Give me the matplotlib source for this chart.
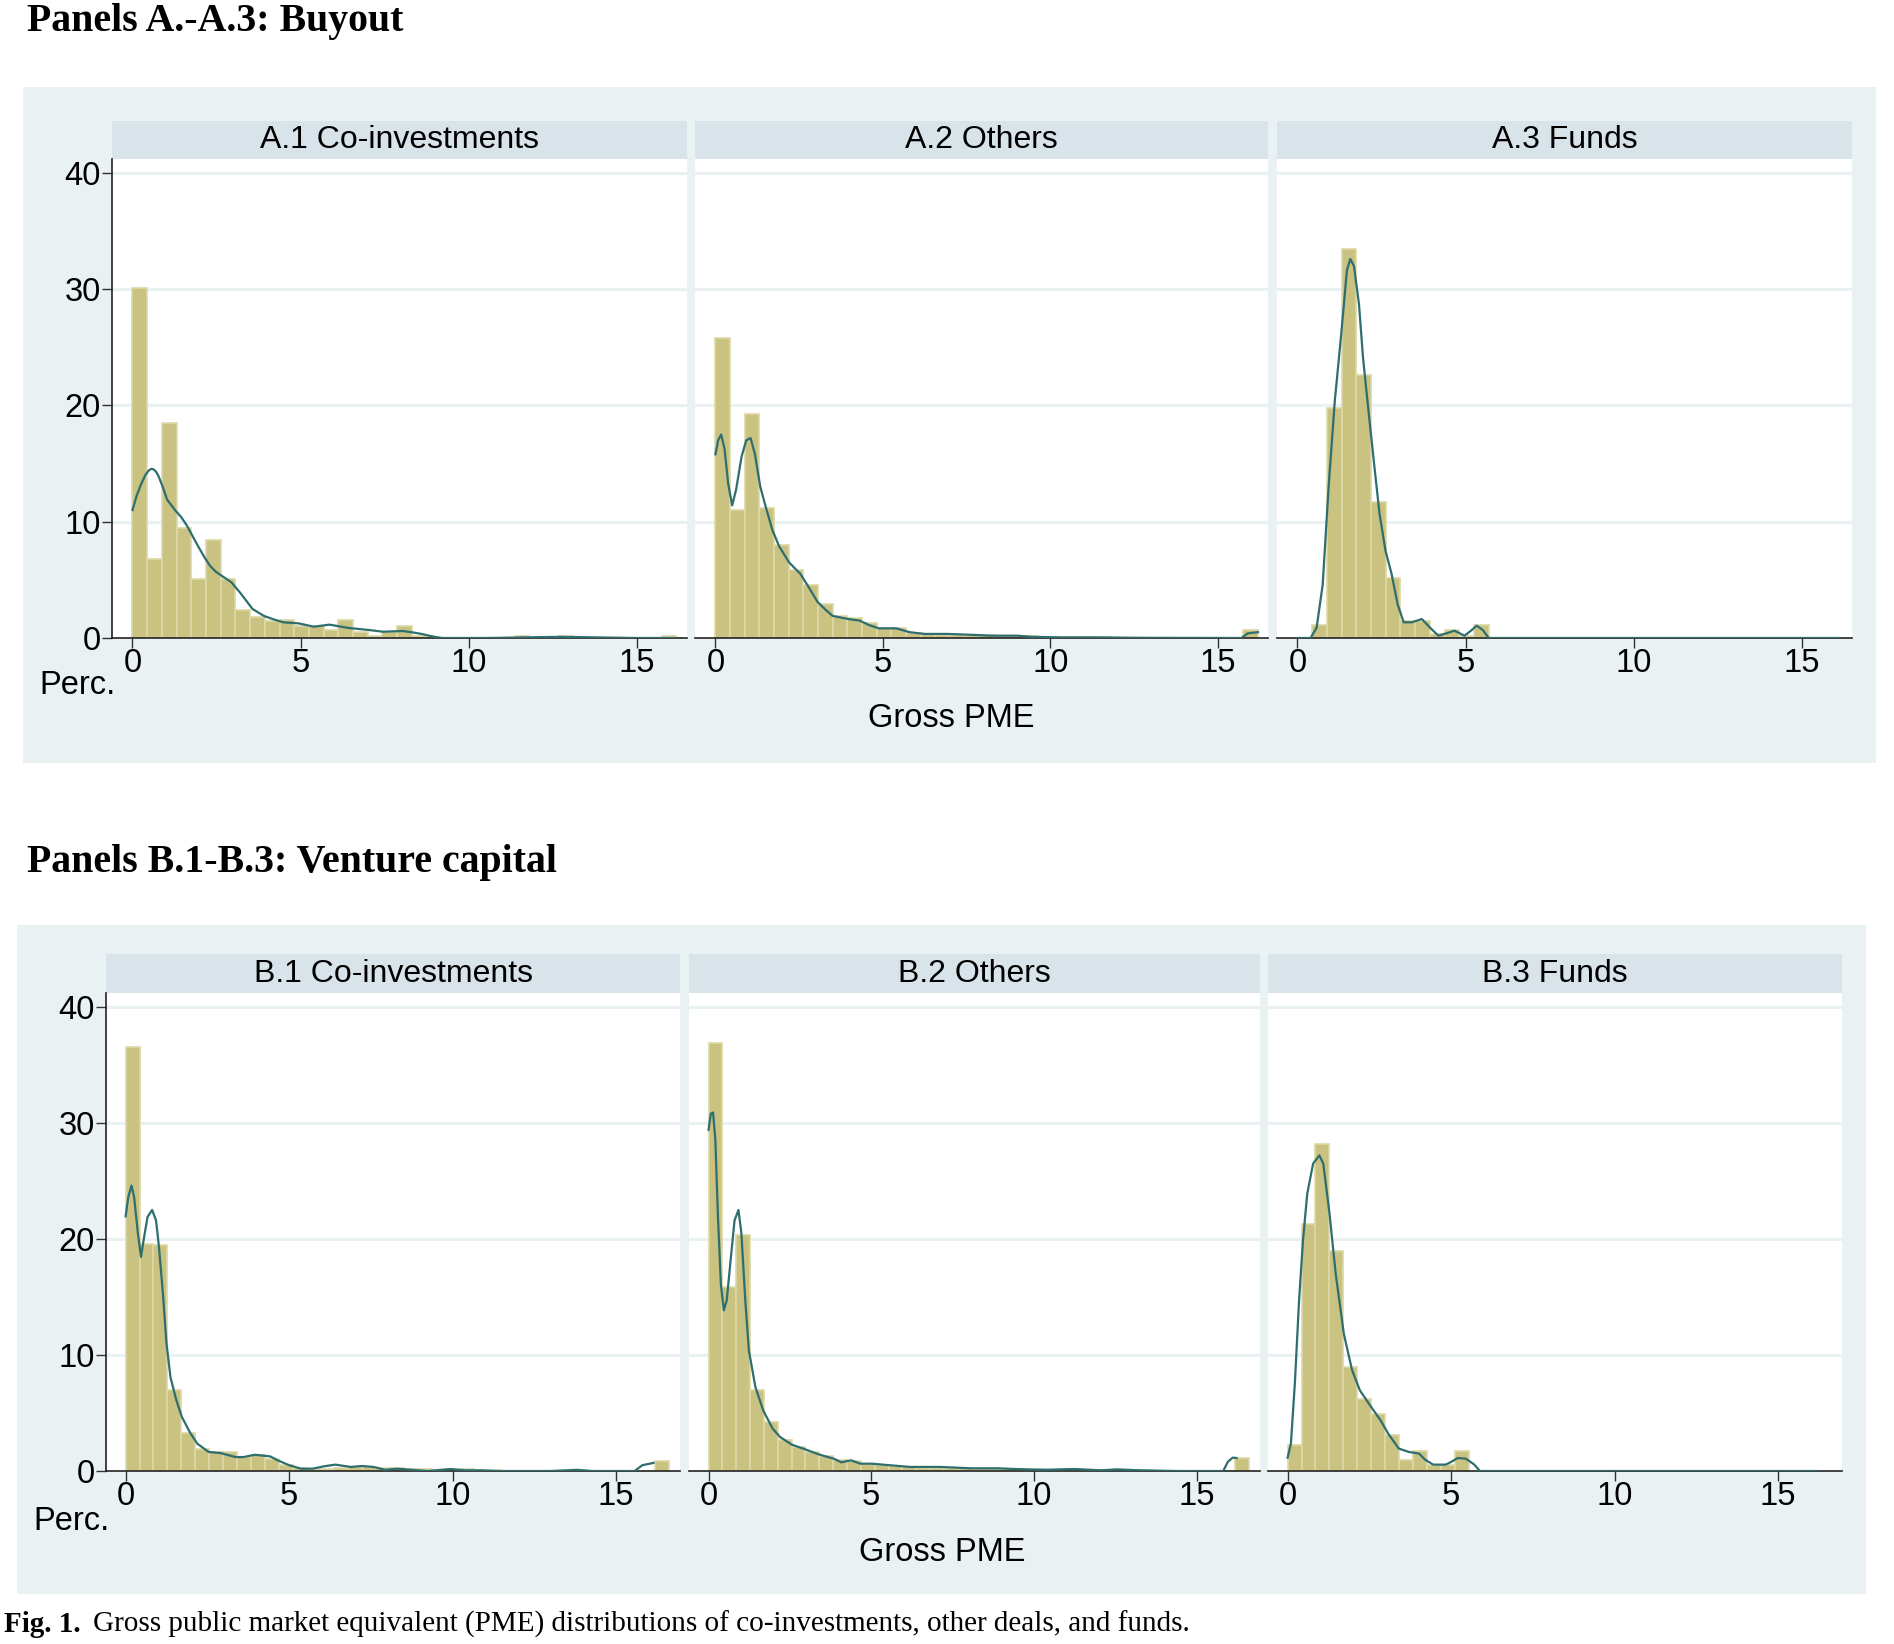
import numpy as np
import matplotlib
matplotlib.use("Agg")
import matplotlib.pyplot as plt
from matplotlib.text import Annotation

# ---------------- data ----------------
A_BIN_WIDTH = 0.4375
B_BIN_WIDTH = 0.4256

A1_HEIGHTS = [30.1, 6.8, 18.5, 9.5, 5.1, 8.4, 5.1, 2.4, 1.8, 1.5, 1.55, 1.0, 1.0, 0.7,
              1.55, 0.5, 0.2, 0.5, 1.05, 0.2, 0.05, 0, 0, 0, 0, 0, 0.15, 0, 0, 0.15,
              0, 0, 0, 0, 0, 0, 0.15]
A2_HEIGHTS = [25.8, 11.0, 19.3, 11.15, 8.0, 5.85, 4.55, 2.9, 1.85, 1.7, 1.25, 0.9, 0.85,
              0.45, 0.35, 0.3, 0.3, 0.3, 0.25, 0.2, 0.2, 0.15, 0.1, 0.1, 0.05, 0.05, 0.05,
              0.03, 0.03, 0.02, 0.02, 0.02, 0.01, 0.01, 0.01, 0.01, 0.7]
A3_HEIGHTS = [0, 1.15, 19.8, 33.5, 22.6, 11.7, 5.2, 1.5, 1.5, 0.35, 0.7, 0.2, 1.15]

B1_HEIGHTS = [36.55, 19.6, 19.45, 7.0, 3.3, 1.9, 1.65, 1.6, 1.2, 1.35, 1.05, 0.55,
              0.25, 0.2, 0.2, 0.3, 0.35, 0.35, 0.3, 0.3, 0.2, 0.15, 0.1, 0.05, 0.15,
              0.05, 0.05, 0, 0, 0, 0, 0, 0.1, 0, 0, 0, 0, 0, 0.9]
B2_HEIGHTS = [36.9, 15.9, 20.3, 7.0, 4.2, 2.64, 2.07, 1.64, 1.3, 0.92, 0.86, 0.63, 0.55,
              0.4, 0.35, 0.3, 0.3, 0.25, 0.22, 0.2, 0.2, 0.18, 0.15, 0.12, 0.1, 0.1,
              0.08, 0.08, 0.06, 0.06, 0.05, 0.05, 0.04, 0.03, 0.03, 0.02, 0.02, 0.01, 1.12]
B3_HEIGHTS = [2.2, 21.3, 28.2, 19.0, 9.0, 6.24, 4.94, 3.07, 0.92, 1.72, 0.49, 0.49, 1.72]

A1_KDE_X = [0, 0.12, 0.25, 0.38, 0.48, 0.56, 0.63, 0.7, 0.77, 0.9, 1.03, 1.28, 1.45, 1.62,
            1.8, 1.97, 2.15, 2.31, 2.48, 2.65, 2.94, 3.23, 3.57, 3.91, 4.2, 4.49, 4.94,
            5.4, 5.86, 6.43, 7.0, 7.46, 8.03, 8.3, 8.6, 8.9, 9.18, 9.86, 10.43, 11.0,
            11.58, 12.72, 13.87, 15.0, 16.15]
A1_KDE_Y = [11.0, 12.2, 13.2, 14.0, 14.4, 14.55, 14.5, 14.3, 13.95, 13.0, 11.9, 10.95,
            10.4, 9.66, 8.7, 7.8, 6.9, 6.2, 5.7, 5.36, 4.8, 3.8, 2.5, 1.9, 1.6, 1.35,
            1.26, 0.97, 1.15, 0.86, 0.7, 0.54, 0.6, 0.5, 0.35, 0.15, 0.0, 0.0, 0.0, 0.02,
            0.05, 0.1, 0.05, 0.0, 0.0]

A2_KDE_X = [0, 0.08, 0.17, 0.27, 0.38, 0.5, 0.62, 0.78, 0.92, 1.05, 1.18, 1.34, 1.5,
            1.7, 1.9, 2.2, 2.54, 2.8, 3.05, 3.3, 3.5, 3.97, 4.3, 4.6, 4.88, 5.4, 5.8,
            6.25, 6.94, 7.85, 8.2, 9.0, 9.45, 10.4, 11.5, 12.66, 13.8, 15.7, 15.9, 16.2]
A2_KDE_Y = [15.8, 17.0, 17.5, 16.3, 13.3, 11.4, 12.8, 15.6, 17.0, 17.2, 15.8, 13.0,
            11.3, 9.3, 7.9, 6.5, 5.5, 4.3, 3.1, 2.4, 1.9, 1.63, 1.5, 1.1, 0.83, 0.83,
            0.5, 0.35, 0.35, 0.25, 0.2, 0.2, 0.1, 0.05, 0.05, 0.02, 0.01, 0.0, 0.4, 0.5]

A3_KDE_X = [0, 0.39, 0.57, 0.75, 0.93, 1.11, 1.29, 1.47, 1.57, 1.68, 1.83, 1.95, 2.07,
            2.26, 2.44, 2.62, 2.8, 2.98, 3.16, 3.4, 3.7, 3.94, 4.19, 4.43, 4.67, 4.97,
            5.15, 5.33, 5.51, 5.69, 16.1]
A3_KDE_Y = [0, 0, 0.9, 4.6, 13.2, 20.4, 25.8, 31.6, 32.6, 32.0, 28.7, 24.1, 20.7, 15.5,
            10.7, 7.5, 5.5, 2.9, 1.35, 1.35, 1.63, 0.9, 0.2, 0.4, 0.63, 0.2, 0.6, 1.06,
            0.7, 0, 0]

B1_KDE_X = [0, 0.08, 0.18, 0.26, 0.375, 0.47, 0.55, 0.67, 0.81, 0.93, 1.02, 1.14, 1.25,
            1.37, 1.55, 1.72, 1.96, 2.19, 2.54, 2.9, 3.36, 3.6, 3.95, 4.42, 4.65, 5.0,
            5.36, 5.71, 6.06, 6.41, 6.88, 7.23, 7.58, 7.94, 8.29, 8.76, 9.23, 9.93,
            10.4, 10.87, 11.34, 12.98, 13.8, 14.27, 15.56, 15.8, 16.14]
B1_KDE_Y = [21.95, 23.6, 24.6, 23.6, 20.5, 18.45, 19.9, 21.9, 22.5, 21.6, 19.3, 15.3,
            11.0, 8.1, 6.1, 4.66, 3.36, 2.36, 1.64, 1.55, 1.2, 1.2, 1.4, 1.26, 0.92, 0.5,
            0.2, 0.2, 0.4, 0.55, 0.35, 0.43, 0.35, 0.1, 0.2, 0.1, 0.0, 0.17, 0.06, 0.06,
            0.0, 0.0, 0.1, 0.0, 0.0, 0.5, 0.7]

B2_KDE_X = [0, 0.07, 0.14, 0.21, 0.29, 0.38, 0.47, 0.56, 0.68, 0.8, 0.92, 1.01, 1.13,
            1.24, 1.44, 1.68, 1.97, 2.2, 2.56, 2.91, 3.38, 3.85, 4.08, 4.38, 4.67, 5.02,
            5.6, 6.2, 7.14, 8.07, 8.9, 9.72, 10.42, 11.24, 12.07, 12.54, 13.24, 14.41,
            15.82, 15.96, 16.11, 16.23]
B2_KDE_Y = [29.4, 30.8, 30.9, 28.5, 21.9, 16.1, 13.85, 14.7, 18.2, 21.6, 22.5, 20.5,
            14.7, 10.4, 7.24, 5.23, 3.65, 2.93, 2.27, 1.93, 1.44, 1.06, 0.75, 0.92, 0.63,
            0.63, 0.49, 0.35, 0.35, 0.23, 0.23, 0.14, 0.11, 0.17, 0.06, 0.14, 0.06, 0.0,
            0.0, 0.78, 1.15, 1.12]

B3_KDE_X = [0, 0.1, 0.22, 0.35, 0.47, 0.6, 0.78, 0.97, 1.09, 1.28, 1.47, 1.72, 1.97,
            2.21, 2.52, 2.84, 3.08, 3.4, 3.71, 4.02, 4.2, 4.45, 4.83, 5.0, 5.2, 5.45,
            5.7, 5.88, 16.2]
B3_KDE_Y = [1.15, 2.36, 7.5, 14.7, 19.9, 23.9, 26.5, 27.2, 26.5, 22.2, 17.0, 11.8, 8.7,
            6.95, 5.66, 4.37, 3.2, 1.93, 1.64, 1.5, 0.98, 0.55, 0.55, 0.78, 1.12, 1.06,
            0.57, 0.0, 0.0]

A_TITLES = ["A.1 Co-investments", "A.2 Others", "A.3 Funds"]
B_TITLES = ["B.1 Co-investments", "B.2 Others", "B.3 Funds"]
X_TICKS = [0, 5, 10, 15]
Y_TICKS = [0, 10, 20, 30, 40]
CAPTION_LABEL = "Fig. 1."
CAPTION = "Gross public market equivalent (PME) distributions of co-investments, other deals, and funds."

# ---------------- style ----------------
W, H = 1894, 1644
BG = "#e9f1f2"
STRIP = "#d8e4ea"
BAR = "#c9c281"
BAR_EDGE = "#ddd8a6"
KDE = "#2e6e6e"
GRID = "#e9f1f2"
SANS = "Liberation Sans"
SERIF = "Liberation Serif"
FS = 23.5
FS_STRIP = 23

fig = plt.figure(figsize=(W / 100, H / 100), dpi=100)
fig.patch.set_facecolor("white")


def rect(x0, y0, x1, y1):
    return [x0 / W, 1 - y1 / H, (x1 - x0) / W, (y1 - y0) / H]


def fx(x):
    return x / W


def fy(y):
    return 1 - y / H


def draw_group(title, title_y, box, strip_y, plot_y, panels, xlim, titles,
               heights, widths, kdes, perc_xy, xlab_xy):
    bgax = fig.add_axes(rect(*box))
    bgax.set_zorder(-5)
    bgax.set_facecolor(BG)
    bgax.set_xticks([]); bgax.set_yticks([])
    for s in bgax.spines.values():
        s.set_visible(False)
    fig.text(fx(27), fy(title_y), title, fontsize=28.7, fontweight="bold",
             family=SERIF, va="center", ha="left")
    for i, (px0, px1) in enumerate(panels):
        sax = fig.add_axes(rect(px0, strip_y[0], px1, strip_y[1]))
        sax.set_facecolor(STRIP)
        sax.set_xticks([]); sax.set_yticks([])
        for s in sax.spines.values():
            s.set_visible(False)
        sax.text(0.5, 0.5, titles[i], ha="center", va="center",
                 fontsize=FS_STRIP, family=SANS, transform=sax.transAxes)

        ax = fig.add_axes(rect(px0, plot_y[0], px1, plot_y[1]))
        ax.set_facecolor("white")
        h = heights[i]
        edges = np.arange(len(h)) * widths
        ax.bar(edges, h, width=widths, align="edge", color=BAR,
               edgecolor=BAR_EDGE, linewidth=1.2, zorder=2)
        kx, ky = kdes[i]
        ax.plot(kx, ky, color=KDE, lw=1.6, zorder=3)
        ax.set_xlim(*xlim)
        ax.set_ylim(0, 41.2)
        for g in [10, 20, 30, 40]:
            ax.axhline(g, color=GRID, lw=2.2, zorder=1)
        ax.set_xticks(X_TICKS)
        ax.set_xticklabels([str(t) for t in X_TICKS], fontsize=FS, family=SANS)
        ax.tick_params(axis="x", length=7, width=1, color="#333333", pad=0)
        for s in ["top", "right"]:
            ax.spines[s].set_visible(False)
        ax.spines["bottom"].set_color("#222222")
        ax.spines["bottom"].set_linewidth(1.2)
        if i == 0:
            ax.set_yticks(Y_TICKS)
            ax.set_yticklabels([str(t) for t in Y_TICKS], fontsize=FS, family=SANS)
            ax.tick_params(axis="y", length=7, width=1, color="#333333", pad=1)
            ax.spines["left"].set_color("#222222")
            ax.spines["left"].set_linewidth(1.2)
        else:
            ax.set_yticks([])
            ax.spines["left"].set_visible(False)
    fig.text(fx(perc_xy[0]), fy(perc_xy[1]), "Perc.", fontsize=FS, family=SANS,
             ha="left", va="center")
    fig.text(fx(xlab_xy[0]), fy(xlab_xy[1]), "Gross PME", fontsize=FS, family=SANS,
             ha="center", va="center")


draw_group("Panels A.-A.3: Buyout", 22, (23, 87, 1876, 763), (121, 159), (159, 638),
           [(112, 687), (695, 1268), (1277, 1852)], (-0.61, 16.5), A_TITLES,
           [A1_HEIGHTS, A2_HEIGHTS, A3_HEIGHTS], A_BIN_WIDTH,
           [(A1_KDE_X, A1_KDE_Y), (A2_KDE_X, A2_KDE_Y), (A3_KDE_X, A3_KDE_Y)],
           (39, 685), (951, 718))

draw_group("Panels B.1-B.3: Venture capital", 862, (17, 925, 1866, 1594), (954, 993),
           (993, 1471), [(106, 680), (689, 1260), (1268, 1842)], (-0.6, 16.95),
           B_TITLES, [B1_HEIGHTS, B2_HEIGHTS, B3_HEIGHTS], B_BIN_WIDTH,
           [(B1_KDE_X, B1_KDE_Y), (B2_KDE_X, B2_KDE_Y), (B3_KDE_X, B3_KDE_Y)],
           (33, 1521), (942, 1552))

# caption below the panels
lab = fig.text(fx(4), fy(1624), CAPTION_LABEL, fontsize=21, fontweight="bold",
               family=SERIF, ha="left", va="center")
fig.add_artist(Annotation(CAPTION, xy=(1, 0), xycoords=lab, xytext=(9, 0),
                          textcoords="offset points", fontsize=21, family=SERIF,
                          ha="left", va="bottom"))

fig.savefig("out.png", dpi=100, facecolor="white")
